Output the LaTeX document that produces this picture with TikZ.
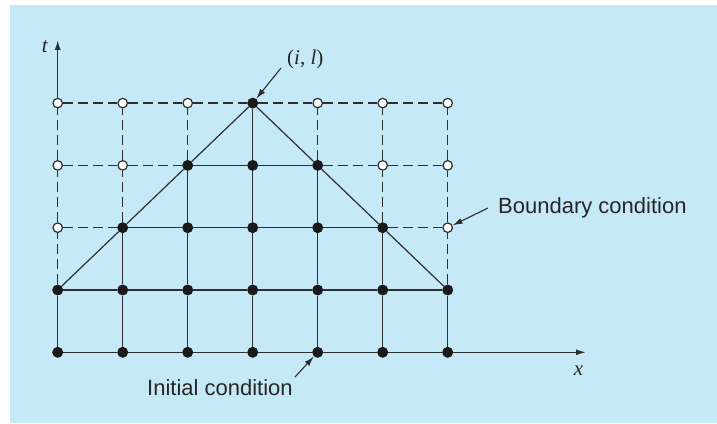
\documentclass[tikz,border=0pt]{standalone}
\usepackage{fontspec}
\setmainfont{Liberation Sans}
\newfontfamily\varfont{Liberation Serif}
\usetikzlibrary{arrows.meta}

\definecolor{panelblue}{HTML}{C6E9F8}
\definecolor{gridline}{HTML}{2E2E2E}
\definecolor{dotfill}{HTML}{1A1A1A}

\begin{document}
\begin{tikzpicture}[x=1pt, y=1pt,
    known/.style={circle, fill=dotfill, inner sep=0pt, minimum size=11pt},
    unknown/.style={circle, draw=gridline, fill=white, line width=1.2pt,
                    inner sep=0pt, minimum size=9.5pt},
    solidln/.style={gridline, line width=1.5pt},
    dashln/.style={gridline, line width=1.5pt, dash pattern=on 10pt off 5pt},
    diagln/.style={gridline, line width=1.2pt},
    axis/.style={-{Latex[length=10pt,width=6pt]}, gridline, line width=1.5pt},
    pointer/.style={-{Latex[length=10pt,width=6pt]}, gridline, line width=1.1pt},
    lbl/.style={font=\fontsize{22}{26}\selectfont, text=black!85, inner sep=2pt},
    varlbl/.style={font=\varfont\fontsize{21}{25}\selectfont, text=black!85,
                   inner sep=2pt},
]

% --- Background ---
\useasboundingbox (0,0) rectangle (717,423);
\fill[panelblue] (10,0) rectangle (717,418);

% --- Grid points (filled = known, open = unknown) ---
\foreach \i in {0,...,6} {
  \foreach \j in {0,...,4} {
    \pgfmathtruncatemacro\d{abs(\i-3)+\j}
    \ifnum\d>4
      \node[unknown] (n\i\j) at (57.7+65*\i, 70.7+62.3*\j) {};
    \else
      \node[known] (n\i\j) at (57.7+65*\i, 70.7+62.3*\j) {};
    \fi
  }
}

% --- Solid grid lines ---
\draw[solidln] (n00) -- (n10) -- (n20) -- (n30) -- (n40) -- (n50) -- (n60);
\draw[solidln] (n01) -- (n11) -- (n21) -- (n31) -- (n41) -- (n51) -- (n61);
\draw[solidln] (n12) -- (n22) -- (n32) -- (n42) -- (n52);
\draw[solidln] (n23) -- (n33) -- (n43);
\draw[solidln] (n00) -- (n01);
\draw[solidln] (n10) -- (n11) -- (n12);
\draw[solidln] (n20) -- (n21) -- (n22) -- (n23);
\draw[solidln] (n30) -- (n31) -- (n32) -- (n33) -- (n34);
\draw[solidln] (n40) -- (n41) -- (n42) -- (n43);
\draw[solidln] (n50) -- (n51) -- (n52);
\draw[solidln] (n60) -- (n61);

% --- Dashed grid lines ---
\draw[dashln] (n02) -- (n12);
\draw[dashln] (n52) -- (n62);
\draw[dashln] (n03) -- (n13) -- (n23);
\draw[dashln] (n43) -- (n53) -- (n63);
\draw[dashln] (n04) -- (n14) -- (n24) -- (n34) -- (n44) -- (n54) -- (n64);
\draw[dashln] (n01) -- (n02) -- (n03) -- (n04);
\draw[dashln] (n12) -- (n13) -- (n14);
\draw[dashln] (n23) -- (n24);
\draw[dashln] (n43) -- (n44);
\draw[dashln] (n52) -- (n53) -- (n54);
\draw[dashln] (n61) -- (n62) -- (n63) -- (n64);

% --- Domain of dependence ---
\draw[diagln] (n01) -- (n12) -- (n23) -- (n34) -- (n43) -- (n52) -- (n61);

% --- Axes ---
\coordinate (tend) at (57.7, 383);
\coordinate (xend) at (586, 70.7);
\draw[axis] (n04) -- (tend);
\draw[axis] (n60) -- (xend);
\node[varlbl, anchor=base] (tlbl) at (45, 370) {\textit{t}};
\node[varlbl, anchor=base] (xlbl) at (578.5, 47.3) {\textit{x}};

% --- Labels ---
\node[varlbl, anchor=base west] (illbl) at (285, 358)
    {(\textit{i}, \textit{l})};
\coordinate (ilstart) at (281, 355);
\draw[pointer] (ilstart) -- (n34);

\node[lbl, anchor=base west] (bclbl) at (496, 209.7) {Boundary condition};
\coordinate (bcstart) at (488, 215);
\draw[pointer] (bcstart) -- (n62);

\node[lbl, anchor=base west] (iclbl) at (145, 28) {Initial condition};
\coordinate (icstart) at (295, 46);
\draw[pointer] (icstart) -- (n40);

\end{tikzpicture}
\end{document}
